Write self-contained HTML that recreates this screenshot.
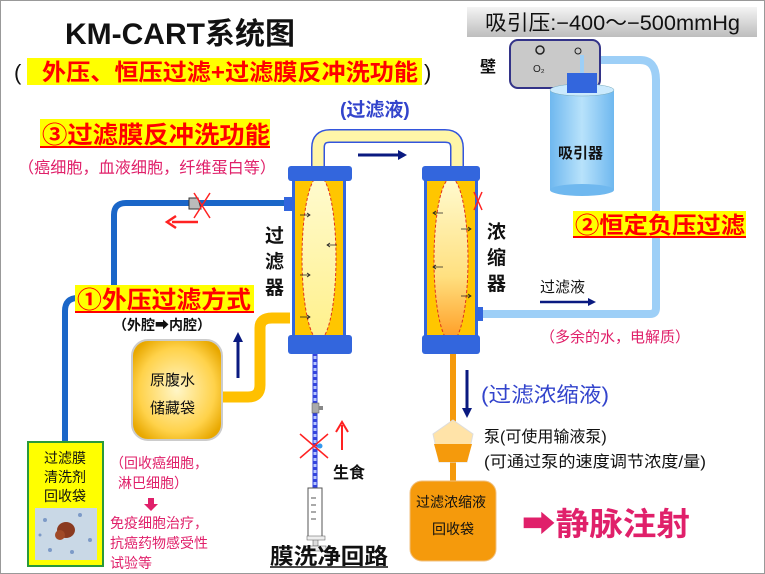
<!DOCTYPE html>
<html><head><meta charset="utf-8"><style>
html,body{margin:0;padding:0;background:#fff}
svg{display:block}
text{font-family:"Liberation Sans","Noto Sans CJK SC",sans-serif}
</style></head><body>
<svg width="765" height="574" viewBox="0 0 765 574" xmlns="http://www.w3.org/2000/svg">
<defs>
<linearGradient id="gh" x1="0" y1="0" x2="0" y2="1"><stop offset="0" stop-color="#f4f4f4"/><stop offset="1" stop-color="#bdbdbd"/></linearGradient>
<linearGradient id="jar" x1="0" y1="0" x2="1" y2="0"><stop offset="0" stop-color="#6fb8ef"/><stop offset="0.5" stop-color="#b8e2fb"/><stop offset="1" stop-color="#6fb8ef"/></linearGradient>
<radialGradient id="res" cx="0.5" cy="0.5" r="0.6"><stop offset="0" stop-color="#fff6c8"/><stop offset="0.7" stop-color="#ffd24a"/><stop offset="1" stop-color="#e8a800"/></radialGradient>
<linearGradient id="ell" x1="0" y1="0" x2="0" y2="1"><stop offset="0" stop-color="#fffbd0"/><stop offset="1" stop-color="#fff08a"/></linearGradient>
<linearGradient id="ell2" x1="0" y1="0" x2="0" y2="1"><stop offset="0" stop-color="#fffbd0"/><stop offset="0.6" stop-color="#ffe080"/><stop offset="1" stop-color="#ff9a20"/></linearGradient>
</defs>
<rect x="0.5" y="0.5" width="764" height="573" fill="#fff" stroke="#999"/>
<!-- title -->
<text x="65" y="44" font-size="30" font-weight="bold" fill="#111">KM-CART系统图</text>
<text x="14" y="80" font-size="22" fill="#111">(</text>
<rect x="27" y="58" width="395" height="27" fill="#ffff00"/>
<text x="42" y="80" font-size="23" font-weight="bold" fill="#ff0000" textLength="376" lengthAdjust="spacingAndGlyphs">外压、恒压过滤+过滤膜反冲洗功能</text>
<text x="424" y="80" font-size="22" fill="#111">)</text>
<!-- suction pressure -->
<rect x="467" y="7" width="290" height="30" fill="url(#gh)"/>
<text x="485" y="30" font-size="21" fill="#111" textLength="255" lengthAdjust="spacingAndGlyphs">吸引压:−400～−500mmHg</text>
<!-- light blue tube -->
<path d="M585,60 H640 Q656,60 656,80 V308 Q656,314 650,314 H480" fill="none" stroke="#9dcff7" stroke-width="8"/>
<!-- wall -->
<rect x="510" y="40" width="90" height="48" rx="8" fill="#c9c9c9" stroke="#333388" stroke-width="2"/>
<text x="480" y="72" font-size="16" font-weight="bold" fill="#111">壁</text>
<circle cx="540" cy="50" r="4" fill="none" stroke="#222" stroke-width="1.5"/>
<circle cx="578" cy="51" r="3" fill="none" stroke="#222" stroke-width="1"/>
<text x="533" y="72" font-size="10" fill="#222">O₂</text>
<line x1="582" y1="55" x2="582" y2="78" stroke="#9dcff7" stroke-width="4"/>
<!-- jar -->
<rect x="550" y="90" width="64" height="100" fill="url(#jar)"/>
<ellipse cx="582" cy="90" rx="32" ry="6" fill="#cbeafd" stroke="#7ab" stroke-width="0.5"/>
<ellipse cx="582" cy="190" rx="32" ry="6" fill="#6fb8ef"/>
<rect x="567" y="73" width="30" height="20" fill="#3366dd"/>
<text x="558" y="158" font-size="15" font-weight="bold" fill="#111">吸引器</text>
<rect x="573" y="211" width="173" height="26" fill="#ffff00"/>
<text x="575" y="233" font-size="23" font-weight="bold" fill="#ff0000" textLength="170" lengthAdjust="spacingAndGlyphs">②恒定负压过滤</text>
<line x1="573" y1="237" x2="746" y2="237" stroke="#ff0000" stroke-width="2"/>
<text x="540" y="292" font-size="15" fill="#111">过滤液</text>
<line x1="540" y1="302" x2="590" y2="302" stroke="#0a1a80" stroke-width="2.5"/><polygon points="596,302 588,298 588,306" fill="#0a1a80"/>
<text x="540" y="342" font-size="15" fill="#e0206a">（多余的水，电解质）</text>
<!-- top yellow tube -->
<path d="M318,166 V148 Q318,136 330,136 H445 Q457,136 457,148 V168" fill="none" stroke="#3355dd" stroke-width="14"/>
<path d="M318,166 V148 Q318,136 330,136 H445 Q457,136 457,148 V168" fill="none" stroke="#fff6a8" stroke-width="11"/>
<line x1="358" y1="155" x2="400" y2="155" stroke="#0a1a80" stroke-width="3"/><polygon points="407,155 398,150 398,160" fill="#0a1a80"/>
<text x="340" y="116" font-size="19" font-weight="bold" fill="#3344cc">(过滤液)</text>
<!-- blue left tube -->
<path d="M288,203 H126 Q114,203 114,215 V298 H78 Q65,298 65,311 V442" fill="none" stroke="#1a66c8" stroke-width="6"/>
<polygon points="189,198 198,198 201,209 189,209" fill="#bbb" stroke="#333" stroke-width="1"/>
<path d="M194,193 L210,218 M210,193 L194,218" stroke="#ff2222" stroke-width="1.5"/>
<line x1="172" y1="222" x2="198" y2="222" stroke="#ff2222" stroke-width="2.5"/><polyline points="176,216 167,222 176,228" fill="none" stroke="#ff2222" stroke-width="2.5"/>
<rect x="40" y="119" width="230" height="28" fill="#ffff00"/>
<text x="42" y="143" font-size="24" font-weight="bold" fill="#ff0000" textLength="228" lengthAdjust="spacingAndGlyphs">③过滤膜反冲洗功能</text>
<line x1="40" y1="147" x2="270" y2="147" stroke="#ff0000" stroke-width="2"/>
<text x="18" y="173" font-size="16" fill="#e0206a" textLength="258" lengthAdjust="spacingAndGlyphs">（癌细胞，血液细胞，纤维蛋白等）</text>
<!-- filter column -->
<rect x="292" y="176" width="54" height="166" fill="#3366dd"/>
<rect x="295" y="180" width="48" height="160" fill="#ffc600"/>
<ellipse cx="319" cy="258" rx="17" ry="82" fill="url(#ell)" stroke="#e03020" stroke-width="1" stroke-dasharray="3,2"/>
<rect x="288" y="166" width="64" height="15" rx="3" fill="#3366dd"/>
<rect x="288" y="335" width="64" height="19" rx="3" fill="#3366dd"/>
<rect x="284" y="197" width="8" height="14" fill="#3366dd"/>
<g stroke="#222" stroke-width="0.8" fill="none"><path d="M300,215 h10 m-3,-2 l3,2 l-3,2"/><path d="M337,245 h-10 m3,-2 l-3,2 l3,2"/><path d="M300,275 h10 m-3,-2 l3,2 l-3,2"/><path d="M300,317 h10 m-3,-2 l3,2 l-3,2"/></g>
<text x="265" y="242" font-size="19" font-weight="bold" fill="#111">过</text>
<text x="265" y="268" font-size="19" font-weight="bold" fill="#111">滤</text>
<text x="265" y="294" font-size="19" font-weight="bold" fill="#111">器</text>
<!-- concentrator -->
<rect x="424" y="176" width="54" height="166" fill="#3366dd"/>
<rect x="427" y="180" width="48" height="160" fill="#ffc600"/>
<ellipse cx="451" cy="260" rx="17" ry="82" fill="url(#ell2)" stroke="#e03020" stroke-width="1" stroke-dasharray="3,2"/>
<rect x="422" y="166" width="58" height="15" rx="3" fill="#3366dd"/>
<rect x="422" y="335" width="58" height="19" rx="3" fill="#3366dd"/>
<rect x="477" y="307" width="6" height="14" fill="#3366dd"/>
<path d="M474,192 L482,210 M482,192 L474,210" stroke="#ff2222" stroke-width="1.5"/>
<g stroke="#222" stroke-width="0.8" fill="none"><path d="M443,213 h-10 m3,-2 l-3,2 l3,2"/><path d="M461,229 h10 m-3,-2 l3,2 l-3,2"/><path d="M443,267 h-10 m3,-2 l-3,2 l3,2"/><path d="M461,296 h10 m-3,-2 l3,2 l-3,2"/></g>
<text x="487" y="238" font-size="19" font-weight="bold" fill="#111">浓</text>
<text x="487" y="264" font-size="19" font-weight="bold" fill="#111">缩</text>
<text x="487" y="290" font-size="19" font-weight="bold" fill="#111">器</text>
<!-- ① -->
<rect x="75" y="285" width="179" height="27" fill="#ffff00"/>
<text x="77" y="308" font-size="24" font-weight="bold" fill="#ff0000" textLength="174" lengthAdjust="spacingAndGlyphs">①外压过滤方式</text>
<line x1="75" y1="312" x2="254" y2="312" stroke="#ff0000" stroke-width="2"/>
<text x="113" y="330" font-size="14" font-weight="bold" fill="#111">（外腔➡内腔）</text>
<!-- yellow tube to reservoir -->
<path d="M220,397 H248 Q260,397 260,385 V328 Q260,318 272,318 H290" fill="none" stroke="#ffc000" stroke-width="11"/>
<line x1="238" y1="378" x2="238" y2="340" stroke="#0a1a80" stroke-width="3"/><polygon points="238,332 233,342 243,342" fill="#0a1a80"/>
<rect x="132" y="340" width="90" height="100" rx="16" fill="url(#res)" stroke="#ccc" stroke-width="2"/>
<text x="150" y="385" font-size="15" fill="#111">原腹水</text>
<text x="150" y="413" font-size="15" fill="#111">储藏袋</text>
<!-- recovery bag -->
<rect x="28" y="442" width="75" height="124" fill="#ffff00" stroke="#2a9a3a" stroke-width="2"/>
<text x="44" y="463" font-size="14" fill="#111">过滤膜</text>
<text x="44" y="482" font-size="14" fill="#111">清洗剂</text>
<text x="44" y="501" font-size="14" fill="#111">回收袋</text>
<rect x="35" y="508" width="62" height="52" fill="#c9d8e6"/>
<g fill="#6a8bc0" opacity="0.8"><circle cx="45" cy="520" r="2"/><circle cx="80" cy="515" r="2"/><circle cx="90" cy="540" r="2"/><circle cx="50" cy="550" r="2"/><circle cx="72" cy="552" r="2"/><circle cx="40" cy="535" r="1.5"/></g>
<ellipse cx="66" cy="530" rx="9" ry="8" fill="#8a3a20"/><ellipse cx="60" cy="535" rx="5" ry="5" fill="#a04a28"/>
<g font-size="14" fill="#e0206a">
<text x="110" y="468">（回收癌细胞，</text>
<text x="118" y="488">淋巴细胞）</text>
<text x="110" y="528">免疫细胞治疗，</text>
<text x="110" y="548">抗癌药物感受性</text>
<text x="110" y="568">试验等</text>
</g>
<rect x="148" y="498" width="6" height="6" fill="#e0206a"/><polygon points="144,504 158,504 151,511" fill="#e0206a"/>
<!-- wash line -->
<line x1="315" y1="354" x2="315" y2="488" stroke="#3344dd" stroke-width="5"/>
<line x1="315" y1="356" x2="315" y2="486" stroke="#b8c8ff" stroke-width="3" stroke-dasharray="3,3"/>
<rect x="312" y="403" width="7" height="10" fill="#aaa" stroke="#555" stroke-width="0.5"/><rect x="319" y="406" width="4" height="4" fill="#888"/>
<path d="M300,434 L328,458 M328,434 L300,458" stroke="#ff2222" stroke-width="1.5"/>
<circle cx="320" cy="446" r="2.5" fill="#3399ee"/>
<rect x="308" y="488" width="14" height="50" fill="#fff" stroke="#555" stroke-width="1"/>
<g stroke="#555" stroke-width="1"><line x1="311" y1="498" x2="316" y2="498"/><line x1="311" y1="505" x2="316" y2="505"/><line x1="311" y1="512" x2="316" y2="512"/><line x1="311" y1="519" x2="316" y2="519"/></g>
<rect x="313" y="538" width="5" height="8" fill="#ddd" stroke="#555" stroke-width="0.5"/>
<rect x="307" y="536" width="18" height="4" fill="#eee" stroke="#555" stroke-width="0.5"/>
<rect x="305" y="546" width="21" height="5" fill="#eee" stroke="#555" stroke-width="0.5"/>
<line x1="342" y1="450" x2="342" y2="425" stroke="#ff2222" stroke-width="2"/><polyline points="336,432 342,422 348,432" fill="none" stroke="#ff2222" stroke-width="2"/>
<text x="333" y="478" font-size="16" font-weight="bold" fill="#111">生食</text>
<text x="270" y="564" font-size="22" font-weight="bold" fill="#111" textLength="118" lengthAdjust="spacingAndGlyphs">膜洗净回路</text>
<line x1="270" y1="567" x2="388" y2="567" stroke="#111" stroke-width="1.5"/>
<!-- concentrate line -->
<line x1="453" y1="354" x2="453" y2="482" stroke="#f59a0c" stroke-width="6"/>
<line x1="467" y1="370" x2="467" y2="410" stroke="#0a1a80" stroke-width="3"/><polygon points="467,418 462,408 472,408" fill="#0a1a80"/>
<text x="481" y="402" font-size="21" fill="#3344cc" textLength="128" lengthAdjust="spacingAndGlyphs">(过滤浓缩液)</text>
<polygon points="453,420 473,434 467,462 439,462 433,434" fill="#ffe3a8" stroke="#ddd" stroke-width="1"/>
<polygon points="434,444 472,444 467,462 439,462" fill="#f59a0c"/>
<text x="484" y="442" font-size="16" fill="#111">泵(可使用输液泵)</text>
<text x="484" y="467" font-size="16" fill="#111" textLength="222" lengthAdjust="spacingAndGlyphs">(可通过泵的速度调节浓度/量)</text>
<rect x="410" y="481" width="86" height="80" rx="12" fill="#f59a0c" stroke="#f0c080" stroke-width="1"/>
<text x="416" y="507" font-size="14" fill="#111">过滤浓缩液</text>
<text x="432" y="534" font-size="14" fill="#111">回收袋</text>
<text x="522" y="535" font-size="32" font-weight="bold" fill="#e0206a" textLength="168" lengthAdjust="spacingAndGlyphs">➡静脉注射</text>
</svg>
</body></html>
